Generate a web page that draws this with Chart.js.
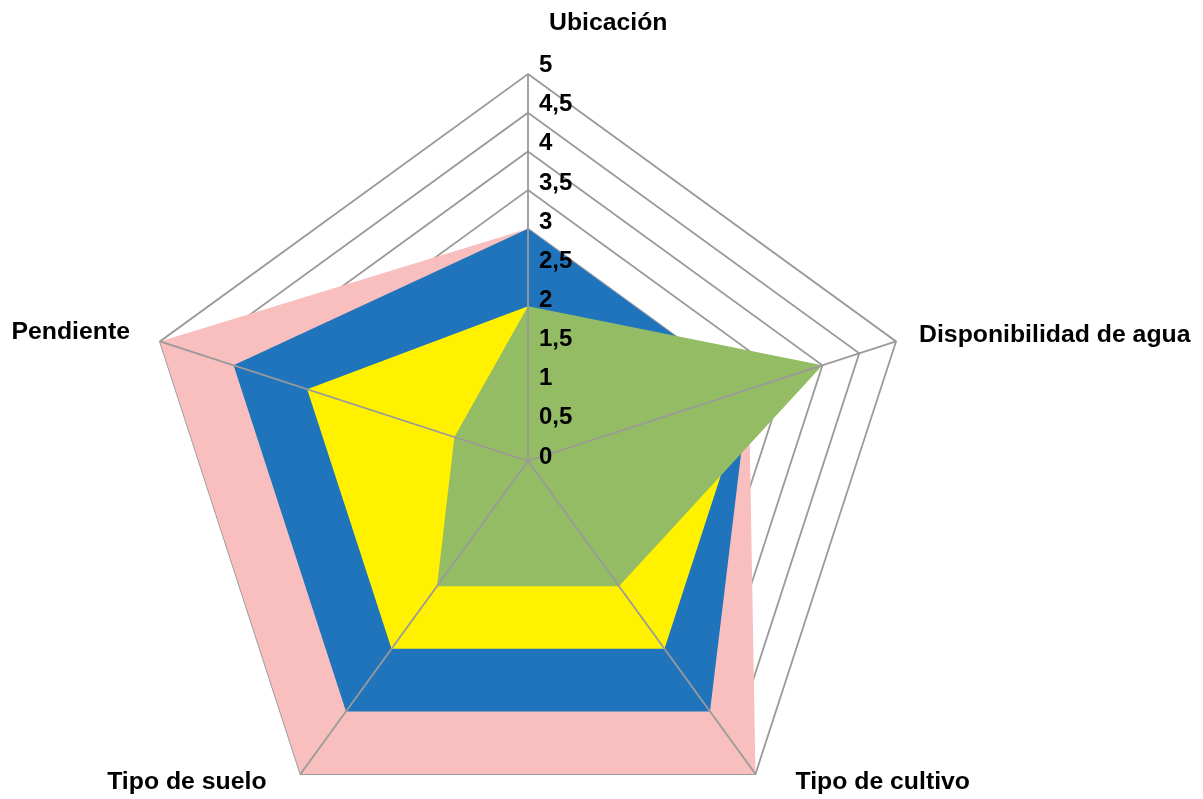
<!DOCTYPE html>
<html><head><meta charset="utf-8">
<script src="https://cdn.jsdelivr.net/npm/chart.js@4"></script>
<style>html,body{margin:0;padding:0;background:#fff;overflow:hidden;width:1203px;height:799px}#wrap{width:1203px;height:848px;position:relative}</style>
</head><body><div id="wrap"><canvas id="c"></canvas></div>
<script>
const categories = ['Ubicación', 'Disponibilidad de agua', 'Tipo de cultivo', 'Tipo de suelo', 'Pendiente'];
const seriesPink = [3, 3, 5, 5, 5];
const seriesBlue = [3, 3, 4, 4, 4];
const seriesYellow = [2, 3, 3, 3, 3];
const seriesGreen = [2, 4, 2, 2, 1];
const tickValues = [0, 0.5, 1, 1.5, 2, 2.5, 3, 3.5, 4, 4.5, 5];
const tickLabels = ['0', '0,5', '1', '1,5', '2', '2,5', '3', '3,5', '4', '4,5', '5'];

const gridColor = '#9A9A9A';
const tickFont = 'bold 24px "Liberation Sans", Arial, sans-serif';
const labelFont = 'bold 24.8px "Liberation Sans", Arial, sans-serif';
const labelPlacement = [
  {dx: 21, dy: -51, align: 'left'},
  {dx: 23, dy: -6, align: 'left'},
  {dx: 40, dy: 8, align: 'left'},
  {dx: -34, dy: 8, align: 'right'},
  {dx: -30, dy: -9, align: 'right'}
];

const overlay = {
  id: 'overlay',
  afterDatasetsDraw(chart) {
    const s = chart.scales.r;
    const ctx = chart.ctx;
    ctx.save();
    ctx.strokeStyle = gridColor;
    ctx.lineWidth = 1.8;
    categories.forEach((c, i) => {
      const p = s.getPointPositionForValue(i, s.max);
      ctx.beginPath();
      ctx.moveTo(s.xCenter, s.yCenter);
      ctx.lineTo(p.x, p.y);
      ctx.stroke();
    });
    ctx.fillStyle = '#000';
    ctx.font = tickFont;
    ctx.textBaseline = 'middle';
    ctx.textAlign = 'left';
    tickValues.forEach((v, i) => {
      const p = s.getPointPositionForValue(0, v);
      ctx.fillText(tickLabels[i], s.xCenter + 11, p.y - 4 - 0.9 * v);
    });
    ctx.font = labelFont;
    categories.forEach((c, i) => {
      const p = s.getPointPositionForValue(i, s.max);
      const L = labelPlacement[i];
      ctx.textAlign = L.align;
      ctx.fillText(c, p.x + L.dx, p.y + L.dy);
    });
    ctx.restore();
  }
};

function ds(label, data, color, order) {
  return {label, data, backgroundColor: color, borderColor: color, borderWidth: 0,
    pointRadius: 0, pointHoverRadius: 0, fill: 'origin', order};
}

new Chart(document.getElementById('c'), {
  type: 'radar',
  data: {
    labels: categories,
    datasets: [
      ds('Serie 1', seriesPink, '#F9BEBE', 4),
      ds('Serie 2', seriesBlue, '#1F74BC', 3),
      ds('Serie 3', seriesYellow, '#FFF100', 2),
      ds('Serie 4', seriesGreen, '#94BC64', 1)
    ]
  },
  options: {
    responsive: true,
    maintainAspectRatio: false,
    animation: false,
    layout: {padding: {left: 141, right: 288, top: 74, bottom: 0}},
    plugins: {legend: {display: false}, tooltip: {enabled: false}},
    elements: {line: {tension: 0}},
    scales: {
      r: {
        min: 0, max: 5,
        ticks: {stepSize: 0.5, display: false},
        grid: {color: gridColor, lineWidth: 1.8, circular: false},
        angleLines: {display: false},
        pointLabels: {display: false}
      }
    }
  },
  plugins: [overlay]
});
</script>
</body></html>
